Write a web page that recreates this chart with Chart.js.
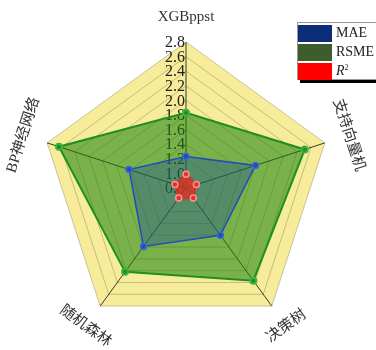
<!DOCTYPE html>
<html lang="zh">
<head>
    <meta charset="UTF-8">
    <title>模型误差雷达图</title>
    <script src="https://cdn.jsdelivr.net/npm/chart.js"></script>
    <style>
        body { margin: 0; background: #fff; }
        #wrap { position: relative; width: 376px; height: 350px; overflow: hidden; }
        #legend {
            position: absolute; left: 297px; top: 22px; width: 82px; height: 56px;
            border: 1px solid #999; background: #fff; box-shadow: 3px 3px 0 #000;
            font: 14px "Liberation Serif", serif; color: #222;
        }
        #legend div { height: 18px; margin-top: 1px; display: flex; align-items: center; }
        #legend span.sw { display: inline-block; width: 34px; height: 17px; margin-right: 4px; }
        #legend sup { font-size: 8px; vertical-align: 5px; }
    </style>
</head>
<body>
<div id="wrap">
    <canvas id="radarChart" width="376" height="350"></canvas>
    <div id="legend"></div>
</div>
<script>
    const categories = ['XGBppst', '支持向量机', '决策树', '随机森林', 'BP神经网络'];
    const maeValues = [1.23, 1.80, 1.60, 1.79, 1.62];
    const rsmeValues = [1.83, 2.51, 2.37, 2.22, 2.63];
    const r2Values = [0.99, 0.95, 0.97, 0.97, 0.96];
    const tickLabels = ['0.8', '1.0', '1.2', '1.4', '1.6', '1.8', '2.0', '2.2', '2.4', '2.6', '2.8'];

    const serif = '"Liberation Serif", "Noto Sans CJK SC", serif';

    // tick numbers drawn left of the vertical axis, under the datasets
    const tickPlugin = {
        id: 'tickPlugin',
        beforeDatasetsDraw(chart) {
            const scale = chart.scales.r;
            const ctx = chart.ctx;
            ctx.save();
            ctx.font = '16px ' + serif;
            ctx.fillStyle = '#222';
            ctx.textAlign = 'right';
            ctx.textBaseline = 'middle';
            tickLabels.forEach(t => {
                const p = scale.getPointPositionForValue(0, parseFloat(t));
                ctx.fillText(t, p.x - 1, p.y + 1);
            });
            ctx.restore();
        }
    };

    // rotated category names around the pentagon
    const labelPlugin = {
        id: 'labelPlugin',
        afterDraw(chart) {
            const scale = chart.scales.r;
            const ctx = chart.ctx;
            ctx.save();
            ctx.font = '15px ' + serif;
            ctx.fillStyle = '#333';
            ctx.textAlign = 'center';
            ctx.textBaseline = 'middle';
            categories.forEach((c, i) => {
                const p = scale.getPointPosition(i, scale.drawingArea + 25);
                let rot = i * 72;
                if (rot > 90 && rot < 270) rot -= 180;
                else if (rot >= 270) rot -= 360;
                ctx.save();
                ctx.translate(p.x, p.y);
                ctx.rotate(rot * Math.PI / 180);
                ctx.fillText(c, 0, 0);
                ctx.restore();
            });
            ctx.restore();
        }
    };

    const ctx = document.getElementById('radarChart').getContext('2d');
    const radarChart = new Chart(ctx, {
        type: 'radar',
        data: {
            labels: categories,
            datasets: [
                {
                    label: 'R²',
                    data: r2Values,
                    borderColor: '#e02a20',
                    backgroundColor: 'rgba(225,45,30,0.8)',
                    pointBackgroundColor: '#e8302a',
                    pointBorderColor: '#ff9090',
                    borderWidth: 1.5,
                    pointRadius: 3
                },
                {
                    label: 'MAE',
                    data: maeValues,
                    borderColor: '#1d4fb5',
                    backgroundColor: 'rgba(20,70,160,0.35)',
                    pointBackgroundColor: '#1d4fb5',
                    pointBorderColor: '#3a6ad0',
                    borderWidth: 1.5,
                    pointRadius: 3
                },
                {
                    label: 'RSME',
                    data: rsmeValues,
                    borderColor: '#1f8f1f',
                    backgroundColor: 'rgba(20,130,10,0.55)',
                    pointBackgroundColor: '#1f8f1f',
                    pointBorderColor: '#40b040',
                    borderWidth: 2,
                    pointRadius: 3
                }
            ]
        },
        options: {
            responsive: false,
            animation: false,
            layout: { padding: { top: 42, bottom: 16, left: 40, right: 43 } },
            plugins: { legend: { display: false }, tooltip: { enabled: false } },
            scales: {
                r: {
                    min: 0.8,
                    max: 2.8,
                    backgroundColor: '#f6ec9a',
                    ticks: { display: false, stepSize: 0.2 },
                    pointLabels: { display: false },
                    grid: { color: 'rgba(110,100,70,0.35)', lineWidth: 1 },
                    angleLines: { color: '#3a3a30', lineWidth: 1 }
                }
            }
        },
        plugins: [tickPlugin, labelPlugin]
    });

    // legend box, top right
    const legendEl = document.getElementById('legend');
    const legendItems = [
        { text: 'MAE', color: '#0d2d78' },
        { text: 'RSME', color: '#3d5e2c' },
        { text: '<i>R</i><sup>2</sup>', color: '#ff0000' }
    ];
    legendItems.forEach(item => {
        const row = document.createElement('div');
        row.innerHTML = '<span class="sw" style="background:' + item.color + '"></span><span>' + item.text + '</span>';
        legendEl.appendChild(row);
    });
</script>
</body>
</html>
